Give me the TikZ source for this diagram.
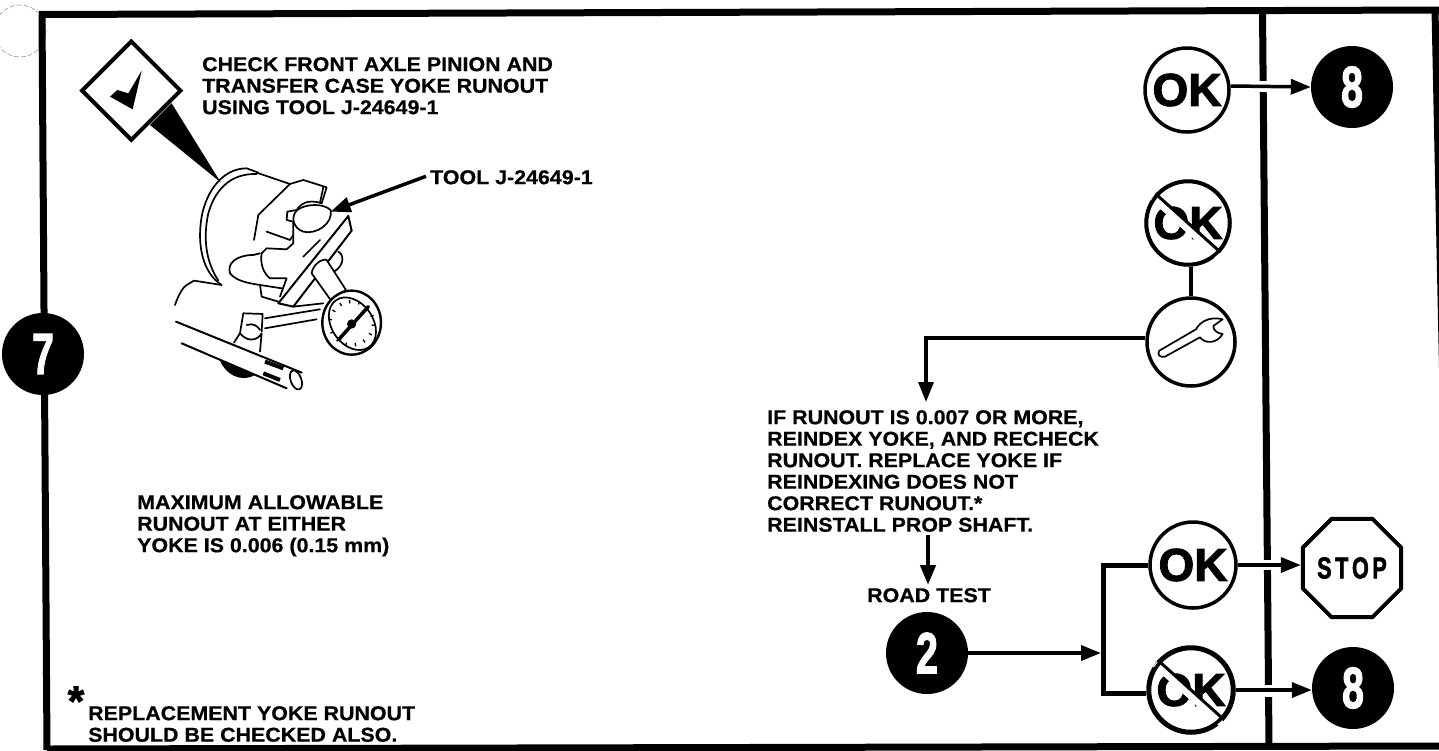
\documentclass[tikz,border=0pt]{standalone}
\usepackage{fontspec}
\usepackage{graphicx}
\setmainfont{Liberation Sans}
\newfontfamily\lblfont[FakeStretch=1.07,FakeBold=0.6]{Liberation Sans Bold}
\newfontfamily\okfont[FakeBold=2.2]{Liberation Sans Bold}
\usetikzlibrary{arrows.meta,shapes.geometric,calc}
\tikzset{
  lbl/.style={font=\lblfont\fontsize{20}{21.5}\selectfont,align=left,anchor=north west,inner sep=0pt,text=black},
  ring/.style={circle,draw=black,line width=3.5pt,fill=white,minimum size=84pt,inner sep=0pt,font=\okfont\fontsize{46}{46}\selectfont},
  badge/.style={circle,fill=black,text=white,minimum size=82pt,inner sep=0pt,font=\okfont\fontsize{58}{58}\selectfont},
  conn/.style={line width=3.5pt,black,-{Triangle[length=20pt,width=15pt]}},
  plain/.style={line width=4pt,black},
  edge1/.style={line width=7pt,black},
  ill/.style={line width=1.7pt,black,line join=round,line cap=round},
  illw/.style={ill,fill=white},
}
\begin{document}
\begin{tikzpicture}[x=1pt,y=-1pt]
\useasboundingbox (0,0) rectangle (1439,750);
\fill[white] (0,0) rectangle (1439,750);
% punched hole ghost
\draw[gray!70,line width=0.7pt,dash pattern=on 5pt off 2pt] (20,31) circle (26);
% frame
\coordinate (tl) at (39,14.5); \coordinate (tr) at (1439,10);
\coordinate (bl) at (47,750); \coordinate (br) at (1439,746);
\coordinate (tl2) at (42,14.5);
\draw[edge1] (tl)--(tr);
\draw[edge1] (tl2)--(bl);
\draw[edge1] (47,749)--(br);
\draw[edge1] (1435,10)--(1444,440);
\coordinate (dt) at (1262.5,11); \coordinate (db) at (1269,746);
\draw[edge1] (dt)--(db);
% text
\node[lbl] (t1) at (202,57) {CHECK FRONT AXLE PINION AND\\TRANSFER CASE YOKE RUNOUT\\USING TOOL J-24649-1};
\node[lbl] (t2) at (430,170) {TOOL J-24649-1};
\node[lbl] (t3) at (137,495) {MAXIMUM ALLOWABLE\\RUNOUT AT EITHER\\YOKE IS 0.006 (0.15 mm)};
\node[lbl] (t4) at (767,410) {IF RUNOUT IS 0.007 OR MORE,\\REINDEX YOKE, AND RECHECK\\RUNOUT. REPLACE YOKE IF\\REINDEXING DOES NOT\\CORRECT RUNOUT.*\\REINSTALL PROP SHAFT.};
\node[lbl] (t5) at (867,588) {ROAD TEST};
\node[lbl] (t6) at (88,706) {REPLACEMENT YOKE RUNOUT\\SHOULD BE CHECKED ALSO.};
\node[font=\okfont\fontsize{42}{42}\selectfont,inner sep=0pt] (star) at (76,701) {*};
% badges
\node[badge] (seven) at (43,354) {\scalebox{.68}[1]{7}};
\node[badge] (eighta) at (1352,87) {\scalebox{.68}[1]{8}};
\node[badge] (eightb) at (1353,688) {\scalebox{.68}[1]{8}};
\node[badge] (two) at (927,653) {\scalebox{.68}[1]{2}};
% rings
\node[ring] (oka) at (1187,90) {OK};
\node[ring] (noa) at (1188,223) {OK};
\node[ring,minimum size=88pt] (wr) at (1191,342) {};
\node[ring,minimum size=86pt] (okb) at (1193,565) {OK};
\node[ring,minimum size=86pt] (nob) at (1191,690) {OK};
\foreach \n in {noa,nob}{
  \draw[white,line width=9pt] ($(\n.138)+(-2,3)$) -- ($(\n.-42)+(-2,3)$);
  \draw[black,line width=3pt] (\n.138) -- (\n.-42);
  \draw[black,line width=3.5pt] (\n) circle (41.5);
}
% stop
\node[regular polygon,regular polygon sides=8,draw=black,line width=4pt,fill=white,minimum size=98pt,inner sep=0pt,font=\okfont\fontsize{30}{30}\selectfont] (stop) at (1352,568) {\scalebox{.72}[1]{S\,T\,O\,P}};
% wrench
\begin{scope}[shift={(1120,50)},x=0.3333pt,y=-0.3333pt]
\draw[black,line width=1.7pt,fill=white,line join=round] (118,902) -- (228,838) .. controls (240,815) and (270,798) .. (308,808) -- (280,828) .. controls (280,840) and (290,850) .. (308,852) .. controls (290,882) and (255,882) .. (240,862) -- (135,920) .. controls (120,925) and (110,912) .. (118,902) -- cycle;
\end{scope}
% connectors
\coordinate (j1) at (926,338);
\coordinate (j1t) at (926,402);
\coordinate (j2) at (928,535);
\coordinate (j2t) at (928,585);
\coordinate (br1) at (1103,565);
\coordinate (br2) at (1103,693);
\coordinate (brm) at (1101,653);
\draw[plain] (noa.south -| wr.north) -- (wr.north);
\draw[conn] (wr.west |- j1) -- (j1) -- (j1t);
\draw[conn,line width=4.5pt] (j2) -- (j2t);
\draw[conn] (two.east) -- (two.east -| brm);
\draw[plain,line width=5pt,line join=miter] (okb.west) -- (okb.west -| br1) -- (br2) -- (br2 -| nob.west);
% gaps at the divider
\fill[white] (1255,81) rectangle (1275,92);
\fill[white] (1255,560) rectangle (1275,570);
\fill[white] (1255,685) rectangle (1275,697);
\draw[conn] (oka.east |- 0,86) -- (eighta.west);
\draw[conn] (okb.east) -- (okb.east -| stop.west);
\draw[conn] (nob.east) -- (nob.east -| eightb.west);
% illustration
\begin{scope}[shift={(90,40)},x=0.3333pt,y=-0.3333pt]
% callout
\fill[black] (245,190) -- (180,255) -- (392,427) -- cycle;
\node[diamond,aspect=1,draw=black,line width=4pt,fill=white,minimum size=100pt,inner sep=0pt] (chk) at (124,152) {};
\fill[black] (155,92) -- (128,208) -- (60,170) -- (82,150) -- (115,160) -- cycle;
% body behind
\draw[ill] (255,795) .. controls (265,765) and (280,740) .. (290,735) -- (312,722) -- (395,735);
\draw[ill] (395,735) .. controls (340,700) and (320,620) .. (335,530) .. controls (350,450) and (400,385) .. (470,385) -- (505,398);
\draw[ill] (385,722) .. controls (345,660) and (340,590) .. (355,520) .. controls (375,450) and (420,400) .. (500,402);
\draw[ill] (500,398) -- (600,432);
\draw[ill] (600,432) -- (640,420) -- (710,442) -- (695,490);
\draw[ill] (600,432) -- (505,525) -- (492,600);
\draw[ill] (695,490) .. controls (650,475) and (630,495) .. (620,510) -- (592,515) -- (590,540) -- (610,545);
\draw[illw] (622,510) .. controls (650,490) and (700,490) .. (722,510) .. controls (730,550) and (680,585) .. (640,575) .. controls (610,565) and (600,530) .. (622,510) -- cycle;
\draw[ill] (700,442) -- (690,488);
\draw[ill] (610,545) -- (610,610) -- (590,628) -- (530,625) -- (515,640);
\draw[ill] (530,575) -- (600,600) -- (610,585);
\draw[ill] (515,640) .. controls (510,670) and (520,700) .. (540,715) -- (590,715) -- (570,770);
\draw[ill] (510,735) -- (575,745);
\draw[ill] (510,640) -- (490,645) .. controls (440,645) and (410,670) .. (420,700) .. controls (440,725) and (480,730) .. (510,735) -- (515,770) -- (565,785);
\draw[ill] (640,650) -- (690,600);
\draw[ill] (745,635) .. controls (770,650) and (755,690) .. (720,700);
% bar
\draw[illw,line width=2pt] (775,528) -- (785,572) -- (610,800) -- (565,790) -- cycle;
% stem
\draw[illw] (665,700) .. controls (668,675) and (695,655) .. (710,660) -- (768,750) -- (722,780) -- cycle;
\draw[ill] (700,790) -- (610,800);
% arm
\draw[ill] (525,835) -- (690,808);
\draw[ill] (525,865) -- (680,838);
% gauge
\draw[illw,line width=2.4pt] (785,848) ellipse [x radius=88,y radius=96];
\draw[ill,rotate around={35:(785,848)}] (785,852) ellipse [x radius=62,y radius=86];
\foreach \a in {-170,-145,...,170}{
  \draw[black,line width=1.3pt] ($(785,850)+(\a:60)$) -- ($(785,850)+(\a:70)$);
}
\draw[black,line width=3.5pt,line cap=round] (745,900) -- (835,800);
\fill[black] (785,852) circle (14);
% clamp
\draw[ill] (460,820) -- (518,822) -- (515,875);
\draw[ill] (460,820) -- (450,880) -- (432,908);
\draw[ill] (470,855) .. controls (490,848) and (505,860) .. (510,870);
\draw[ill] (450,880) .. controls (470,905) and (500,905) .. (515,880) -- (510,935);
% rod
\draw[ill,line width=2pt] (258,845) -- (635,998);
\draw[ill,line width=2pt] (275,910) -- (590,1045);
\draw[illw,rotate around={20:(618,1020)}] (618,1020) ellipse [x radius=16,y radius=30];
\draw[black,line width=4pt] (525,965) -- (580,985);
\draw[black,line width=4pt] (520,1000) -- (570,1020);
% lower gear
\fill[black] (390,962) .. controls (405,1000) and (450,1030) .. (495,1005) -- cycle;
% tool arrow
\coordinate (tip) at (722,515);
\end{scope}
\draw[black,line width=3.5pt,-{Triangle[length=20pt,width=15pt]}] (t2.west) ++(-4,-1) -- (tip);
\end{tikzpicture}
\end{document}
